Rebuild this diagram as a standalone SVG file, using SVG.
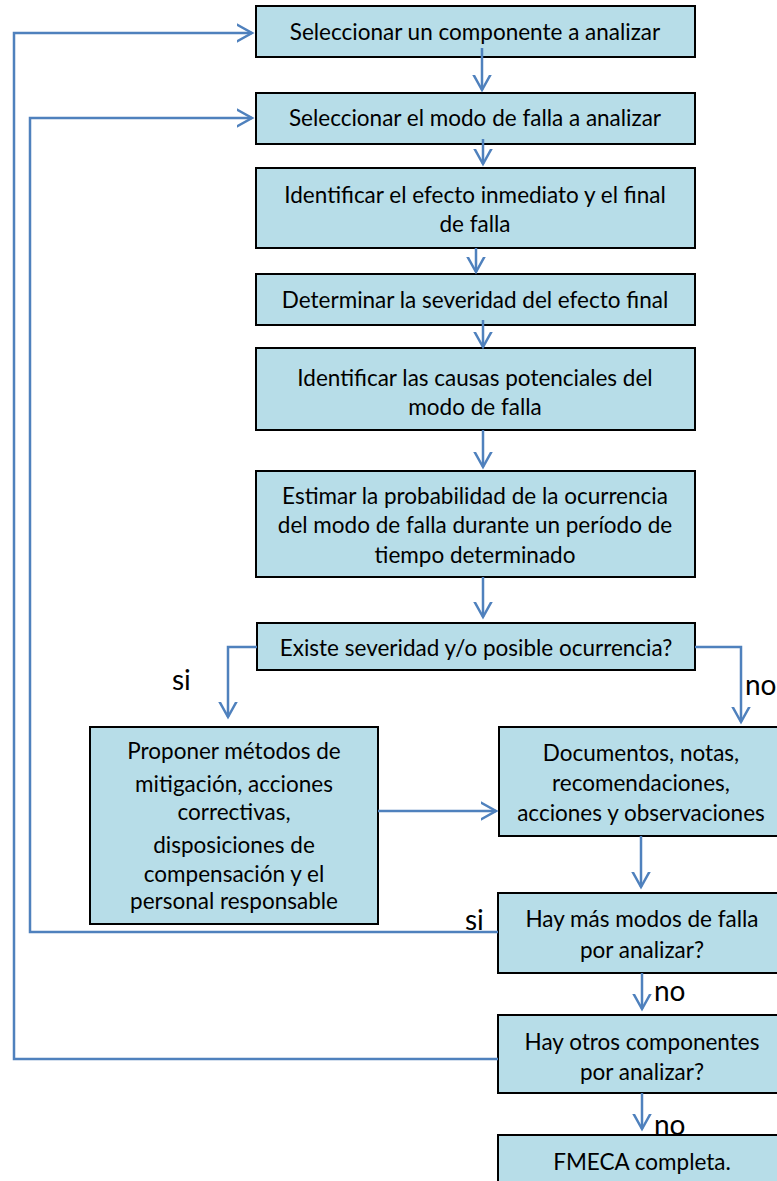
<svg xmlns="http://www.w3.org/2000/svg" width="777" height="1181" viewBox="0 0 777 1181">
<style>
.box{fill:#B7DDE8;stroke:#000;stroke-width:2}
.t{font-family:Lato,"Open Sans",sans-serif;font-size:22.5px;fill:#000;text-anchor:middle}
.lbl{font-family:Lato,"Open Sans",sans-serif;font-size:28px;fill:#000}
.c{fill:none;stroke:#4F81BD;stroke-width:2.5}
</style>
<defs>
<marker id="ah" markerUnits="userSpaceOnUse" markerWidth="30" markerHeight="30" viewBox="-15 -15 30 30" refX="0" refY="0" orient="auto">
<path d="M-18,-10 L0,0 L-18,10" fill="none" stroke="#4F81BD" stroke-width="2.5"/>
</marker>
</defs>
<rect width="777" height="1181" fill="#fff"/>
<g id="n1"><rect class="box" x="256" y="6" width="439" height="51"/><text class="t" x="475" y="40">Seleccionar un componente a analizar</text></g>
<g id="n2"><rect class="box" x="256" y="93" width="439" height="51"/><text class="t" x="475" y="126">Seleccionar el modo de falla a analizar</text></g>
<g id="n3"><rect class="box" x="256" y="168" width="439" height="80"/><text class="t" x="475" y="203">Identificar el efecto inmediato y el final</text><text class="t" x="475" y="232">de falla</text></g>
<g id="n4"><rect class="box" x="256" y="274" width="439" height="51"/><text class="t" x="475" y="308">Determinar la severidad del efecto final</text></g>
<g id="n5"><rect class="box" x="256" y="348" width="439" height="82"/><text class="t" x="475" y="386">Identificar las causas potenciales del</text><text class="t" x="475" y="415">modo de falla</text></g>
<g id="n6"><rect class="box" x="256" y="471" width="439" height="106"/><text class="t" x="475" y="504">Estimar la probabilidad de la ocurrencia</text><text class="t" x="475" y="533">del modo de falla durante un período de</text><text class="t" x="475" y="563">tiempo determinado</text></g>
<g id="n7"><rect class="box" x="257" y="623" width="438" height="47"/><text class="t" x="476" y="656">Existe severidad y/o posible ocurrencia?</text></g>
<g id="n8"><rect class="box" x="90" y="727" width="288" height="197"/><text class="t" x="234" y="759">Proponer métodos de</text><text class="t" x="234" y="792">mitigación, acciones</text><text class="t" x="234" y="820">correctivas,</text><text class="t" x="234" y="853">disposiciones de</text><text class="t" x="234" y="882">compensación y el</text><text class="t" x="234" y="909">personal responsable</text></g>
<g id="n9"><rect class="box" x="499" y="727" width="288" height="109"/><text class="t" x="641" y="761">Documentos, notas,</text><text class="t" x="641" y="791">recomendaciones,</text><text class="t" x="641" y="821">acciones y observaciones</text></g>
<g id="n10"><rect class="box" x="498" y="893" width="290" height="80"/><text class="t" x="642" y="927">Hay más modos de falla</text><text class="t" x="642" y="958">por analizar?</text></g>
<g id="n11"><rect class="box" x="498" y="1015" width="290" height="78"/><text class="t" x="642" y="1050">Hay otros componentes</text><text class="t" x="642" y="1080">por analizar?</text></g>
<g id="n12"><rect class="box" x="498" y="1135" width="290" height="60"/><text class="t" x="642" y="1170">FMECA completa.</text></g>
<g id="connectors">
<path class="c" d="M482,48 V90" marker-end="url(#ah)"/>
<path class="c" d="M483,139 V164" marker-end="url(#ah)"/>
<path class="c" d="M476,248 V272" marker-end="url(#ah)"/>
<path class="c" d="M483,320 V347" marker-end="url(#ah)"/>
<path class="c" d="M483,430 V467" marker-end="url(#ah)"/>
<path class="c" d="M483,577 V617" marker-end="url(#ah)"/>
<path class="c" d="M257,647 H228 V717" marker-end="url(#ah)"/>
<path class="c" d="M695,647 H741 V722" marker-end="url(#ah)"/>
<path class="c" d="M378,811 H496" marker-end="url(#ah)"/>
<path class="c" d="M641,836 V887" marker-end="url(#ah)"/>
<path class="c" d="M498,932 H30 V118 H252" marker-end="url(#ah)"/>
<path class="c" d="M642,973 V1009" marker-end="url(#ah)"/>
<path class="c" d="M498,1059 H14 V33 H252" marker-end="url(#ah)"/>
<path class="c" d="M642,1093 V1129" marker-end="url(#ah)"/>
<text class="lbl" x="172" y="690">si</text>
<text class="lbl" x="745" y="695">no</text>
<text class="lbl" x="465" y="930">si</text>
<text class="lbl" x="654" y="1001">no</text>
<text class="lbl" x="654" y="1135">no</text>
</g>
</svg>
